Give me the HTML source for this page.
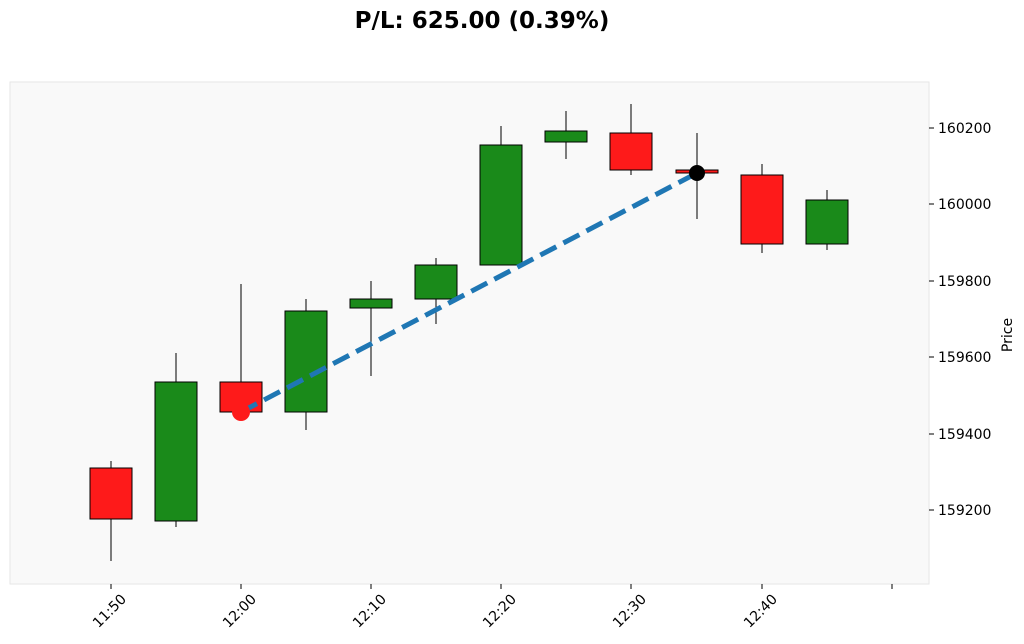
<!DOCTYPE html>
<html><head><meta charset="utf-8"><style>
body{margin:0;background:#fff;}
svg{display:block;font-family:"DejaVu Sans","Liberation Sans",sans-serif;}
</style></head><body>
<svg width="1024" height="644" viewBox="0 0 1024 644" xmlns="http://www.w3.org/2000/svg">
<rect width="1024" height="644" fill="#fff"/>
<text x="482" y="28" text-anchor="middle" font-size="23" font-weight="bold" fill="#000">P/L: 625.00 (0.39%)</text>
<rect x="10" y="82" width="919" height="502" fill="#f9f9f9" stroke="#e6e6e6" stroke-width="1"/>
<g stroke="#000" stroke-width="1">
<line x1="111" y1="461" x2="111" y2="561"/><rect x="90" y="468" width="42" height="51" fill="#fe1a1a"/>
<line x1="176" y1="353" x2="176" y2="527"/><rect x="155" y="382" width="42" height="139" fill="#1a8a1a"/>
<line x1="241" y1="284" x2="241" y2="412"/><rect x="220" y="382" width="42" height="30" fill="#fe1a1a"/>
<line x1="306" y1="299" x2="306" y2="430"/><rect x="285" y="311" width="42" height="101" fill="#1a8a1a"/>
<line x1="371" y1="281" x2="371" y2="376"/><rect x="350" y="299" width="42" height="9" fill="#1a8a1a"/>
<line x1="436" y1="258" x2="436" y2="324"/><rect x="415" y="265" width="42" height="34" fill="#1a8a1a"/>
<line x1="501" y1="126" x2="501" y2="265"/><rect x="480" y="145" width="42" height="120" fill="#1a8a1a"/>
<line x1="566" y1="111" x2="566" y2="159"/><rect x="545" y="131" width="42" height="11" fill="#1a8a1a"/>
<line x1="631" y1="104" x2="631" y2="175"/><rect x="610" y="133" width="42" height="37" fill="#fe1a1a"/>
<line x1="697" y1="133" x2="697" y2="219"/><rect x="676" y="170" width="42" height="3" fill="#fe1a1a"/>
<line x1="762" y1="164" x2="762" y2="253"/><rect x="741" y="175" width="42" height="69" fill="#fe1a1a"/>
<line x1="827" y1="190" x2="827" y2="250"/><rect x="806" y="200" width="42" height="44" fill="#1a8a1a"/>
</g>
<line x1="241" y1="412" x2="697" y2="173" stroke="#1f77b4" stroke-width="5" stroke-dasharray="18,8"/>
<circle cx="241" cy="412" r="9" fill="#fe1a1a"/>
<circle cx="697" cy="173" r="8" fill="#000"/>
<g stroke="#000" stroke-width="1">
<line x1="929" y1="510" x2="934" y2="510"/><line x1="929" y1="434" x2="934" y2="434"/>
<line x1="929" y1="357" x2="934" y2="357"/><line x1="929" y1="281" x2="934" y2="281"/>
<line x1="929" y1="204" x2="934" y2="204"/><line x1="929" y1="128" x2="934" y2="128"/>
<line x1="111" y1="584" x2="111" y2="589"/><line x1="241" y1="584" x2="241" y2="589"/>
<line x1="371" y1="584" x2="371" y2="589"/><line x1="501" y1="584" x2="501" y2="589"/>
<line x1="631" y1="584" x2="631" y2="589"/><line x1="762" y1="584" x2="762" y2="589"/>
<line x1="892" y1="584" x2="892" y2="589"/>
</g>
<g font-size="14" fill="#000">
<text x="938" y="515">159200</text><text x="938" y="439">159400</text>
<text x="938" y="362">159600</text><text x="938" y="286">159800</text>
<text x="938" y="209">160000</text><text x="938" y="133">160200</text>
</g>
<text transform="translate(1012,335) rotate(-90)" text-anchor="middle" font-size="14">Price</text>
<g font-size="14" text-anchor="end">
<text transform="translate(127,600) rotate(-45)">11:50</text>
<text transform="translate(257,600) rotate(-45)">12:00</text>
<text transform="translate(387,600) rotate(-45)">12:10</text>
<text transform="translate(517,600) rotate(-45)">12:20</text>
<text transform="translate(647,600) rotate(-45)">12:30</text>
<text transform="translate(778,600) rotate(-45)">12:40</text>
</g>
</svg>
</body></html>
